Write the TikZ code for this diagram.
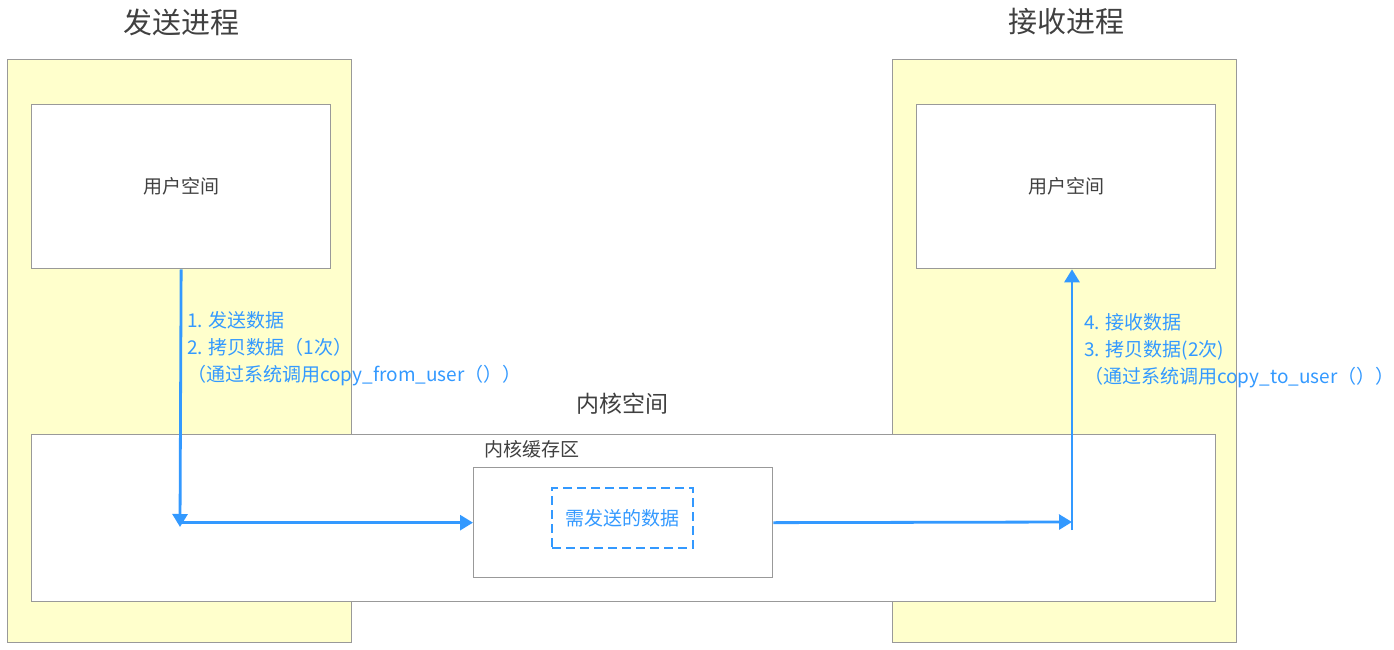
\documentclass[tikz,border=0pt]{standalone}
\usepackage{fontspec}
\setmainfont{Noto Sans CJK SC}
\usepackage{tikz}
\usetikzlibrary{positioning,arrows.meta,calc}
\definecolor{procYellow}{HTML}{FFFFCC}
\definecolor{boxGray}{HTML}{999999}
\definecolor{textGray}{HTML}{404040}
\definecolor{flowBlue}{HTML}{3399FF}

\tikzset{
  procbox/.style={draw=boxGray, fill=procYellow, line width=1.3pt, anchor=north west, inner sep=0pt, minimum width=344pt, minimum height=583pt},
  spacebox/.style={draw=boxGray, fill=white, line width=1.3pt, anchor=north west, inner sep=0pt, font=\fontsize{19}{22}\selectfont, text=textGray},
  flow/.style={draw=flowBlue, line width=2.8pt, -{Triangle[width=15pt,length=13pt]}},
  flowtext/.style={text=flowBlue, inner sep=0pt, anchor=west, align=left, font=\fontsize{19}{27}\selectfont},
}

\begin{document}
\begin{tikzpicture}[x=1pt, y=-1pt]
    \useasboundingbox (0,0) rectangle (1394,650);
    % processes
    \node[procbox] (sendProc) at (7,59) {};
    \node[procbox] (recvProc) at (892,59) {};
    \node[text=textGray, font=\fontsize{29}{32}\selectfont] (sendTitle) at (181,22) {发送进程};
    \node[text=textGray, font=\fontsize{29}{32}\selectfont] (recvTitle) at (1066,22) {接收进程};

    % user spaces
    \node[spacebox, minimum width=299pt, minimum height=164pt] (sendUser) at (31,104) {用户空间};
    \node[spacebox, minimum width=299pt, minimum height=164pt] (recvUser) at (916,104) {用户空间};

    % kernel space
    \node[spacebox, minimum width=1184pt, minimum height=167pt] (kernel) at (31,434) {};
    \node[text=textGray, font=\fontsize{23}{26}\selectfont] (kernelLabel) at (622,404) {内核空间};
    \node[spacebox, minimum width=299pt, minimum height=110pt] (buffer) at (473,467) {};
    \node[text=textGray, font=\fontsize{19}{22}\selectfont, anchor=west, inner sep=0pt] (bufferLabel) at (484,449) {内核缓存区};
    \node[draw=flowBlue, dash pattern=on 9pt off 5pt, line width=1.3pt, minimum width=141pt, minimum height=60pt,
          text=flowBlue, font=\fontsize{19}{22}\selectfont] (payload) at (622.5,518) {需发送的数据};

    % data flow
    \coordinate (sendCorner) at (180,527);
    \coordinate (recvCorner) at (1072,522);
    \coordinate (recvBottom) at (1072,530);
    \draw[flow] (sendUser.south) -- (sendCorner);
    \draw[flow] (sendCorner |- buffer.west) -- (buffer.west);
    \draw[flow] (buffer.east) -- (recvCorner);
    \draw[flow] (recvBottom) -- (recvBottom |- recvUser.south);

    \node[flowtext] (sendSteps) at (187,349) {1. 发送数据\\2. 拷贝数据（1次）\\（通过系统调用copy\_from\_user（））};
    \node[flowtext] (recvSteps) at (1084,351) {4. 接收数据\\3. 拷贝数据(2次)\\（通过系统调用copy\_to\_user（））};
\end{tikzpicture}
\end{document}
